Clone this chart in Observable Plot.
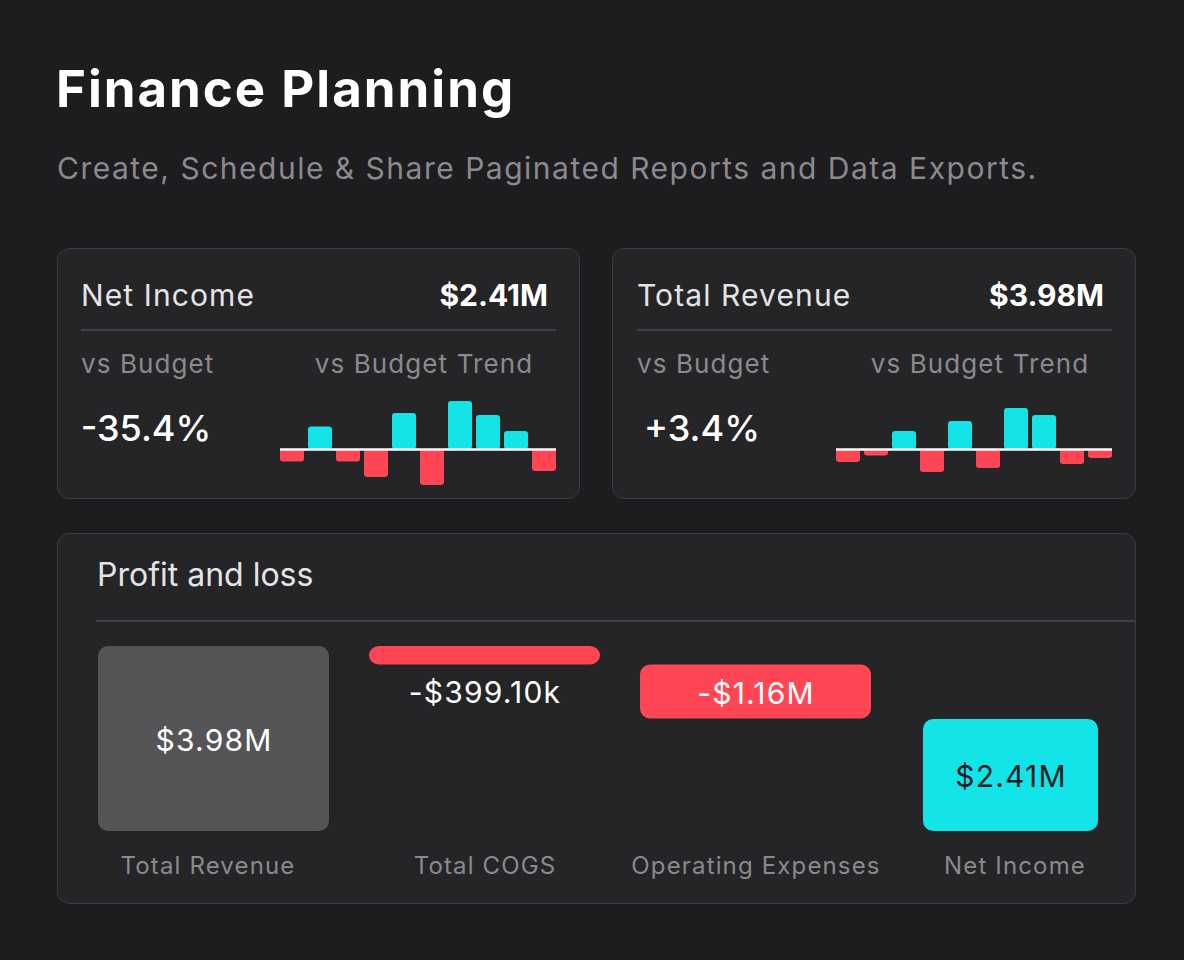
<!DOCTYPE html>
<html>
<head>
<meta charset="utf-8">
<script src="https://cdn.jsdelivr.net/npm/d3@7"></script>
<script src="https://cdn.jsdelivr.net/npm/@observablehq/plot@0.6"></script>
<style>
  html, body { margin: 0; padding: 0; }
  body { width: 1184px; height: 960px; background: #1d1c1f; position: relative; overflow: hidden;
         font-family: Inter, "Noto Sans", sans-serif; }
  .t { position: absolute; line-height: 1; white-space: nowrap; }
  .card { position: absolute; background: #252427; border: 1.5px solid #3c3b3f; border-radius: 12px; box-sizing: border-box; }
  .hr { position: absolute; height: 2px; background: #414044; }
  .abs { position: absolute; }
  svg { overflow: visible; }
</style>
</head>
<body>
<div class="t" style="left:56px; top:63px; font-size:51px; font-weight:700; letter-spacing:2px; color:#ffffff;">Finance Planning</div>
<div class="t" style="left:57px; top:153px; font-size:30px; letter-spacing:1.5px; color:#8b8a8e;">Create, Schedule &amp; Share Paginated Reports and Data Exports.</div>

<div class="card" style="left:57px; top:248px; width:523px; height:251px;"></div>
<div class="card" style="left:612px; top:248px; width:524px; height:251px;"></div>
<div class="card" style="left:57px; top:533px; width:1079px; height:371px;"></div>

<div id="kpis"></div>
<div id="spark1" class="abs" style="left:280px; top:395px;"></div>
<div id="spark2" class="abs" style="left:836px; top:395px;"></div>
<div class="t" style="left:97px; top:559px; font-size:32px; color:#e4e4e6;">Profit and loss</div>
<div class="hr" style="left:96px; top:620px; width:1039px;"></div>
<div id="pnl" class="abs" style="left:58px; top:622px;"></div>

<script>
// ---- data ----
const kpiNames = ["Net Income", "Total Revenue"];
const kpiTotals = ["$2.41M", "$3.98M"];
const kpiVsBudget = ["-35.4%", "+3.4%"];
const months = ["Jan","Feb","Mar","Apr","May","Jun","Jul","Aug","Sep","Oct"];
const netIncomeTrend = [-4.2, 7.5, -4.2, -9.3, 12.0, -12.0, 16.0, 11.3, 6.0, -7.3];
const revenueTrend = [-4.3, -2.2, 6.0, -7.7, 9.3, -6.3, 13.7, 11.3, -5.0, -3.0];
const pnlCategories = ["Total Revenue", "Total COGS", "Operating Expenses", "Net Income"];
const pnlValues = [3.98, -0.3991, -1.16, 2.41];
const pnlLabels = ["$3.98M", "-$399.10k", "-$1.16M", "$2.41M"];

const CYAN = "#12e4e8", RED = "#ff4655", GRAY = "#555557";

// ---- KPI texts ----
const kpiX = [0, 556];
const kpis = document.getElementById("kpis");
kpiNames.forEach((name, i) => {
  const dx = kpiX[i];
  kpis.insertAdjacentHTML("beforeend", `
    <div class="t" style="left:${81+dx}px; top:280px; font-size:30px; letter-spacing:1.1px; color:#e4e4e6;">${name}</div>
    <div class="t" style="right:${1184-(548+dx)}px; top:280px; font-size:30px; font-weight:700; color:#ffffff;">${kpiTotals[i]}</div>
    <div class="hr" style="left:${81+dx}px; top:329px; width:${475}px;"></div>
    <div class="t" style="left:${81+dx}px; top:351px; font-size:26px; letter-spacing:1.1px; color:#8b8a8e;">vs Budget</div>
    <div class="t" style="left:${424+dx}px; top:351px; font-size:26px; letter-spacing:1.1px; color:#8b8a8e; transform:translateX(-50%);">vs Budget Trend</div>
    <div class="t" style="left:${146+dx}px; top:410px; font-size:36px; font-weight:500; color:#ffffff; transform:translateX(-50%);">${kpiVsBudget[i]}</div>
  `);
});

// ---- sparklines ----
function spark(values) {
  const data = months.map((m, i) => ({month: m, value: values[i]}));
  return Plot.plot({
    width: 276, height: 96,
    margin: 0,
    x: {domain: months, range: [0, 276], paddingInner: 0.143, paddingOuter: 0, axis: null},
    y: {domain: [-14, 18], range: [96, 0], axis: null},
    color: {domain: ["pos", "neg"], range: [CYAN, RED]},
    style: {background: "transparent"},
    marks: [
      Plot.barY(data, {x: "month", y: "value", fill: d => d.value >= 0 ? "pos" : "neg", rx: 3}),
      Plot.ruleY([0], {stroke: "#ffffff", strokeWidth: 2.5})
    ]
  });
}
document.getElementById("spark1").append(spark(netIncomeTrend));
document.getElementById("spark2").append(spark(revenueTrend));

// ---- waterfall ----
let run = 0;
const pnl = pnlCategories.map((c, i) => {
  const v = pnlValues[i];
  let y1, y2, kind;
  if (i === 0) { y1 = 0; y2 = v; run = v; kind = "total"; }
  else if (i === pnlCategories.length - 1) { y1 = 0; y2 = v; kind = "net"; }
  else { y1 = run; y2 = run + v; run = y2; kind = "neg"; }
  return {category: c, y1, y2, mid: (y1 + y2) / 2, low: Math.min(y1, y2), label: pnlLabels[i], kind};
});
const big = pnl.filter(d => d.kind !== "neg" || Math.abs(d.y2 - d.y1) > 0.6);
const small = pnl.filter(d => d.kind === "neg" && Math.abs(d.y2 - d.y1) <= 0.6);
const W = 1100, H = 270;
const chart = Plot.plot({
  width: W, height: H,
  margin: 0,
  x: {domain: pnlCategories, range: [38, 1086], paddingInner: 0.147, paddingOuter: 0, axis: null},
  y: {domain: [0, 3.98], range: [209, 24], axis: null},
  color: {domain: ["total", "neg", "net"], range: [GRAY, RED, CYAN]},
  style: {background: "transparent", fontFamily: "Inter, sans-serif"},
  marks: [
    Plot.barY(pnl.filter(d => d.kind !== "net"), {x: "category", y1: "y1", y2: "y2", fill: "kind", rx: 10}),
    Plot.barY(pnl.filter(d => d.kind === "net"), {x: "category", y1: "y1", y2: "y2", fill: "kind", rx: 10, insetLeft: 12, insetRight: 44}),
    Plot.text(big.filter(d => d.kind !== "net"), {x: "category", y: "mid", text: "label", fill: "#ffffff", fontSize: 30, dy: 2}),
    Plot.text(big.filter(d => d.kind === "net"), {x: "category", y: "mid", text: "label", fill: "#1d1c1f", fontSize: 30, dx: -16, dy: 2}),
    Plot.text(small, {x: "category", y: "low", text: "label", fill: "#ffffff", fontSize: 30, dy: 28}),
    Plot.text(pnlCategories.filter(c => c !== "Total Revenue" && c !== "Net Income"), {x: d => d, text: d => d, frameAnchor: "bottom", dy: -19, fill: "#8b8a8e", fontSize: 24}),
    Plot.text(["Total Revenue"], {x: d => d, text: d => d, frameAnchor: "bottom", dy: -19, dx: -6, fill: "#8b8a8e", fontSize: 24}),
    Plot.text(["Net Income"], {x: d => d, text: d => d, frameAnchor: "bottom", dy: -19, dx: -12, fill: "#8b8a8e", fontSize: 24})
  ]
});
chart.querySelectorAll("g[aria-label='text']").forEach((g, i) => {
  g.setAttribute("style", (g.getAttribute("style") || "") + (i < 3 ? "letter-spacing:1.2px;" : "letter-spacing:1.15px;"));
});
document.getElementById("pnl").append(chart);
</script>
</body>
</html>
